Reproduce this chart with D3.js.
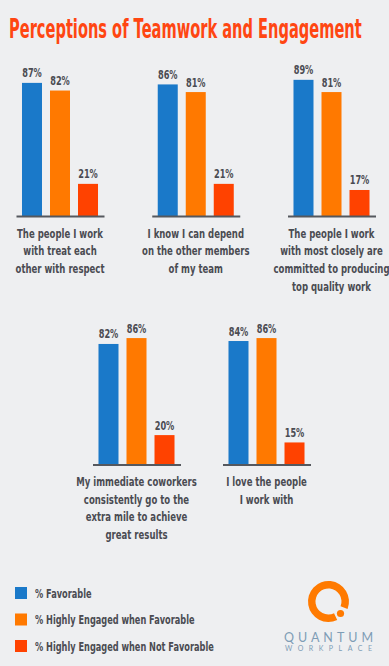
<!DOCTYPE html>
<html>
<head>
<meta charset="utf-8">
<script src="https://cdn.jsdelivr.net/npm/d3@7"></script>
<style>
  html, body { margin: 0; padding: 0; background: #eeeff1; }
  svg { display: block; }
  .cond { font-family: "DejaVu Sans", "Liberation Sans", sans-serif; font-weight: bold; }
</style>
</head>
<body>
<svg id="chart" width="389" height="666"></svg>
<script>
// ---- data ----
const title = "Perceptions of Teamwork and Engagement";
const seriesNames = ["% Favorable", "% Highly Engaged when Favorable", "% Highly Engaged when Not Favorable"];
const seriesColors = ["#1a79c9", "#ff7900", "#ff4200"];
const categories = [
  ["The people I work", "with treat each", "other with respect"],
  ["I know I can depend", "on the other members", "of my team"],
  ["The people I work", "with most closely are", "committed to producing", "top quality work"],
  ["My immediate coworkers", "consistently go to the", "extra mile to achieve", "great results"],
  ["I love the people", "I work with"]
];
const favorable = [87, 86, 89, 82, 84];
const engagedFavorable = [82, 81, 81, 86, 86];
const engagedNotFavorable = [21, 21, 17, 20, 15];

const values = categories.map((c, i) => [favorable[i], engagedFavorable[i], engagedNotFavorable[i]]);

const svg = d3.select("#chart");
const textColor = "#4a4b52";
const FS = 12.5;

// measure condensing factor: legend line 3 is ~179px wide in the reference
const probe = svg.append("text").attr("class", "cond").attr("font-size", FS).text(seriesNames[2]);
const K = 179 / probe.node().getComputedTextLength();
probe.remove();

function ctext(parent, x, y, str, opts = {}) {
  const t = parent.append("text").attr("class", "cond")
    .attr("transform", `translate(${x},${y}) scale(${opts.k || K},1)`)
    .attr("font-size", opts.size || FS)
    .attr("fill", opts.fill || textColor)
    .attr("text-anchor", opts.anchor || "start")
    .text(str);
  return t;
}

// title
{
  const t = svg.append("text").attr("class", "cond").attr("font-size", 26).text(title);
  const w = t.node().getComputedTextLength();
  t.remove();
  ctext(svg, 9, 38, title, { size: 26, k: 353 / w, fill: "#ff4612" });
}

// row layouts
const rows = [
  { idx: [0, 1, 2], range: [60, 331.5], base: 216, height: 153 },
  { idx: [3, 4], range: [136.5, 266.5], base: 464.5, height: 147 }
];

const inner = d3.scaleBand().domain(seriesNames).range([-44, 44])
  .paddingInner(8 / 28).paddingOuter(0.214);

rows.forEach(row => {
  const gx = d3.scalePoint().domain(row.idx).range(row.range);
  const y = d3.scaleLinear().domain([0, 100]).range([row.base, row.base - row.height]);

  row.idx.forEach(ci => {
    const g = svg.append("g").attr("transform", `translate(${gx(ci)},0)`);
    const vals = values[ci];

    g.selectAll("rect").data(vals).join("rect")
      .attr("x", (d, i) => inner(seriesNames[i]))
      .attr("width", inner.bandwidth())
      .attr("y", d => y(d))
      .attr("height", d => y(0) - y(d))
      .attr("fill", (d, i) => seriesColors[i]);

    vals.forEach((d, i) => {
      ctext(g, inner(seriesNames[i]) + inner.bandwidth() / 2, y(d) - 5.5, d + "%",
        { anchor: "middle", size: 12.5 });
    });

    // baseline axis
    const ax = g.append("g").attr("transform", `translate(0,${row.base})`)
      .call(d3.axisBottom(inner).tickSize(0).tickFormat(""));
    ax.select(".domain").attr("stroke", "#55585e").attr("stroke-width", 2);

    // category label
    categories[ci].forEach((line, li) => {
      ctext(g, 0, row.base + 21.5 + li * 17.7, line, { anchor: "middle", size: 13 });
    });
  });
});

// legend
seriesNames.forEach((name, i) => {
  const yy = 587 + i * 26.5;
  svg.append("rect").attr("x", 15).attr("y", yy).attr("width", 12).attr("height", 12)
    .attr("fill", seriesColors[i]);
  ctext(svg, 35, yy + 10.5, name, { size: FS });
});

// logo
const logo = svg.append("g").attr("transform", "translate(328.5,601.5)");
const arc = d3.arc().innerRadius(13).outerRadius(20.5)
  .startAngle(Math.PI * 0.86).endAngle(Math.PI * 2 + Math.PI * 0.62);
logo.append("path").attr("d", arc()).attr("fill", "#ff7a00");
logo.append("circle").attr("cx", 12).attr("cy", 12).attr("r", 3.6).attr("fill", "#ff7a00");
svg.append("text")
  .attr("x", 328.5).attr("y", 641.5).attr("text-anchor", "middle")
  .attr("font-family", "Lato, 'Open Sans', sans-serif").attr("font-size", 12.5)
  .attr("fill", "#7e9db6")
  .attr("textLength", 89).attr("lengthAdjust", "spacing")
  .text("QUANTUM");
svg.append("text")
  .attr("x", 328.5).attr("y", 650.5).attr("text-anchor", "middle")
  .attr("font-family", "Lato, 'Open Sans', sans-serif").attr("font-size", 7)
  .attr("fill", "#7e9db6")
  .attr("textLength", 87).attr("lengthAdjust", "spacing")
  .text("WORKPLACE");
</script>
</body>
</html>
